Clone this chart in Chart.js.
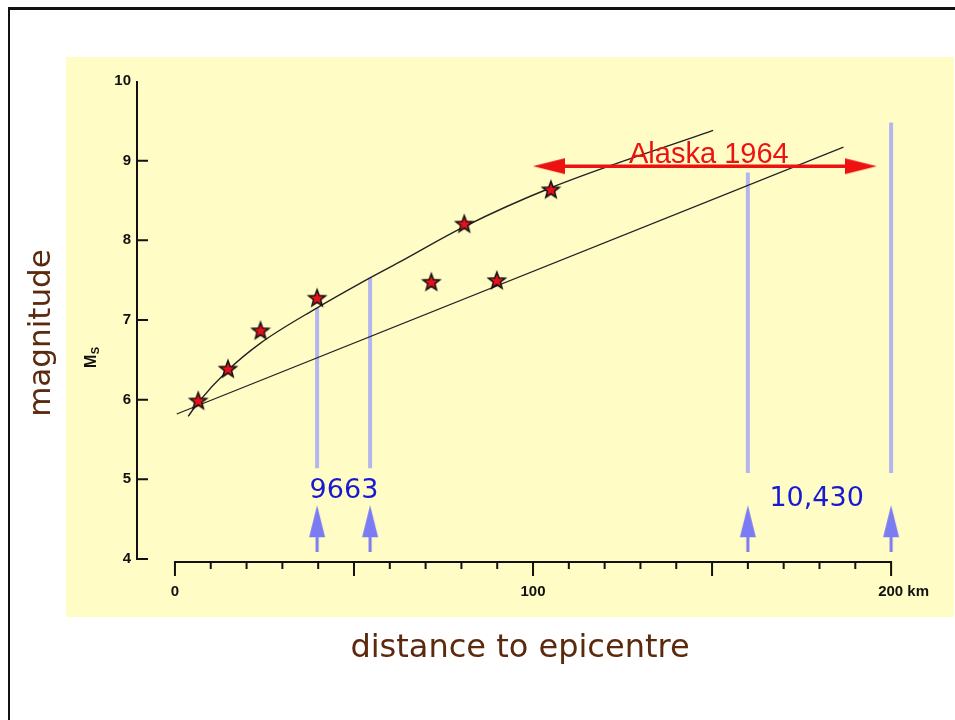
<!DOCTYPE html>
<html>
<head>
<meta charset="utf-8">
<script src="https://cdn.jsdelivr.net/npm/chart.js@4.4.1/dist/chart.umd.min.js"></script>
<style>
  body { margin: 0; width: 955px; height: 720px; background: #fff; position: relative; overflow: hidden; }
  #frame { position: absolute; left: 8px; top: 7px; width: 947px; height: 713px; border-top: 3px solid #111; border-left: 2px solid #111; box-sizing: border-box; }
  #panel { position: absolute; left: 66px; top: 57px; width: 888px; height: 560px; background: #fffcc6; }
  #fabri { position: absolute; left: 0; top: 0; }
  .titulo { position: absolute; font-family: "DejaVu Sans", Verdana, sans-serif; color: #5b2a0e; text-align: center; white-space: nowrap; }
  #ytitle { left: -61px; top: 315px; width: 200px; font-size: 31px; line-height: 36px; transform: rotate(-90deg); }
  #xtitle { left: 320px; top: 627px; width: 400px; font-size: 32px; line-height: 38px; }
</style>
</head>
<body>
<div id="frame"></div>
<div id="panel"></div>
<canvas id="fabri" width="955" height="720"></canvas>
<div class="titulo" id="ytitle">magnitude</div>
<div class="titulo" id="xtitle">distance to epicentre</div>
<script>
// terremotos (estrelas)
var starX = [6.5, 14.8, 23.9, 39.7, 71.6, 80.8, 89.9, 105];
var starY = [5.99, 6.39, 6.87, 7.28, 7.48, 8.21, 7.50, 8.64];

// curva superior
var curveX = [3.7, 6.4, 14.8, 23.9, 39.6, 51.7, 62.8, 80.7, 105, 150.3];
var curveY = [5.79, 5.96, 6.37, 6.71, 7.15, 7.46, 7.73, 8.17, 8.66, 9.38];

// reta inferior
var lineX = [0.5, 186.7];
var lineY = [5.82, 9.17];

// linhas azuis verticais
var blueX = [39.7, 54.5, 160, 200];
var blueBottom = [5.14, 5.14, 5.08, 5.08];
var blueTop = [7.15, 7.53, 8.85, 9.48];

// setas azuis
var arrowX = [39.7, 54.5, 160, 200];
var arrowY = [4.38, 4.38, 4.38, 4.38];

// seta vermelha (Alaska)
var alaskaX = [100, 196];
var alaskaY = [8.93, 8.93];
var alaskaShaftX = [106, 190];

// textos
var labelTexts = ['Alaska 1964', '9663', '10,430'];
var labelX = [149.1, 47.2, 179.2];
var labelY = [8.975, 4.76, 4.67];

// eixos
var yTicks = [4, 5, 6, 7, 8, 9];
var xTickMarks = [0, 10, 20, 30, 40, 50, 60, 70, 80, 90, 100, 110, 120, 130, 140, 150, 160, 170, 180, 190, 200];
var xMajor = [0, 50, 100, 150, 200];
var xTickValues = [0, 100, 200];
var xTickLabels = ['0', '100', '200 km'];

var tickFont = { family: '"Liberation Sans", Arial, sans-serif', size: 15, weight: 'bold' };

function makeStar(r, ri) {
  var c = document.createElement('canvas');
  var s = Math.ceil(r * 2 + 4);
  c.width = s;
  c.height = s;
  var g = c.getContext('2d');
  g.translate(s / 2, s / 2 + 0.8);
  g.beginPath();
  for (var i = 0; i < 10; i++) {
    var rad = (i % 2 === 0) ? r : ri;
    var a = -Math.PI / 2 + i * Math.PI / 5;
    g.lineTo(rad * Math.cos(a), rad * Math.sin(a));
  }
  g.closePath();
  g.fillStyle = '#e8101c';
  g.fill();
  g.lineWidth = 1.5;
  g.strokeStyle = '#111';
  g.stroke();
  return c;
}

function makeUpArrow() {
  var c = document.createElement('canvas');
  c.width = 18;
  c.height = 47;
  var g = c.getContext('2d');
  g.fillStyle = '#7b7bf3';
  g.beginPath();
  g.moveTo(9, 0);
  g.lineTo(17, 32);
  g.lineTo(1, 32);
  g.closePath();
  g.fill();
  g.fillRect(7.5, 31, 3, 16);
  return c;
}

function makeHead() {
  var c = document.createElement('canvas');
  c.width = 64;
  c.height = 18;
  var g = c.getContext('2d');
  g.fillStyle = '#ee1111';
  g.beginPath();
  g.moveTo(0, 1);
  g.lineTo(32, 9);
  g.lineTo(0, 17);
  g.closePath();
  g.fill();
  return c;
}

function pts(xs, ys) {
  var out = [];
  for (var i = 0; i < xs.length; i++) {
    out.push({ x: xs[i], y: ys[i] });
  }
  return out;
}

var datasets = [];

datasets.push({
  data: pts(starX, starY),
  pointStyle: makeStar(8.8, 3.7),
  pointRadius: 9,
  showLine: false,
  order: 0
});

datasets.push({
  data: pts(alaskaX, alaskaY),
  pointStyle: makeHead(),
  pointRotation: [180, 0],
  pointRadius: 10,
  showLine: false,
  order: 1
});

datasets.push({
  data: pts(alaskaShaftX, alaskaY),
  showLine: true,
  borderColor: '#ee1111',
  borderWidth: 3.5,
  pointRadius: 0,
  order: 1
});

datasets.push({
  data: pts(curveX, curveY),
  showLine: true,
  cubicInterpolationMode: 'monotone',
  borderColor: '#222',
  borderWidth: 1.4,
  pointRadius: 0,
  order: 2
});

datasets.push({
  data: pts(lineX, lineY),
  showLine: true,
  borderColor: '#222',
  borderWidth: 1.2,
  pointRadius: 0,
  order: 2
});

for (var i = 0; i < blueX.length; i++) {
  datasets.push({
    data: [{ x: blueX[i], y: blueBottom[i] }, { x: blueX[i], y: blueTop[i] }],
    showLine: true,
    borderColor: '#b5b5ef',
    borderWidth: 4,
    pointRadius: 0,
    order: 3
  });
}

datasets.push({
  data: pts(arrowX, arrowY),
  pointStyle: makeUpArrow(),
  pointRadius: 10,
  showLine: false,
  order: 3
});

// eixos desenhados a partir das escalas
var eixos = {
  id: 'eixos',
  beforeDatasetsDraw: function (chart) {
    var ctx = chart.ctx;
    var xs = chart.scales.x;
    var ys = chart.scales.y;
    var area = chart.chartArea;
    ctx.save();
    ctx.strokeStyle = '#111';
    ctx.lineWidth = 2;
    ctx.lineCap = 'butt';

    var x0 = area.left;
    ctx.beginPath();
    ctx.moveTo(x0, ys.getPixelForValue(10));
    ctx.lineTo(x0, ys.getPixelForValue(4) + 1);
    for (var i = 0; i < yTicks.length; i++) {
      var py = ys.getPixelForValue(yTicks[i]);
      ctx.moveTo(x0 - 1, py);
      ctx.lineTo(x0 + 11, py);
    }
    ctx.stroke();

    var yA = area.bottom + 3;
    ctx.beginPath();
    ctx.moveTo(xs.getPixelForValue(0) - 1, yA);
    ctx.lineTo(xs.getPixelForValue(200) + 1, yA);
    for (var j = 0; j < xTickMarks.length; j++) {
      var px = xs.getPixelForValue(xTickMarks[j]);
      var len = xMajor.indexOf(xTickMarks[j]) >= 0 ? 14 : 7;
      ctx.moveTo(px, yA);
      ctx.lineTo(px, yA + len);
    }
    ctx.stroke();

    // titulo Ms
    ctx.translate(92, 368);
    ctx.rotate(-Math.PI / 2);
    ctx.fillStyle = '#111';
    ctx.textBaseline = 'middle';
    ctx.textAlign = 'left';
    ctx.font = 'bold 16px "Liberation Sans", Arial, sans-serif';
    ctx.fillText('M', 0, 0);
    var w = ctx.measureText('M').width;
    ctx.font = 'bold 11px "Liberation Sans", Arial, sans-serif';
    ctx.fillText('S', w + 0.5, 3.5);
    ctx.restore();
  },
  afterDatasetsDraw: function (chart) {
    var ctx = chart.ctx;
    var xs = chart.scales.x;
    var ys = chart.scales.y;
    ctx.save();
    ctx.textAlign = 'center';
    ctx.textBaseline = 'alphabetic';
    for (var i = 0; i < labelTexts.length; i++) {
      if (i === 0) {
        ctx.font = '29px "Liberation Sans", Arial, sans-serif';
        ctx.fillStyle = '#ee1111';
      } else {
        ctx.font = '27px "DejaVu Sans", Verdana, sans-serif';
        ctx.fillStyle = '#1919d2';
      }
      ctx.fillText(labelTexts[i], xs.getPixelForValue(labelX[i]), ys.getPixelForValue(labelY[i]));
    }
    ctx.restore();
  }
};

var ctx = document.getElementById('fabri');
var chart = new Chart(ctx, {
  type: 'scatter',
  data: { datasets: datasets },
  plugins: [eixos],
  options: {
    responsive: false,
    animation: false,
    devicePixelRatio: 1,
    layout: { padding: { left: 87, right: 46, top: 81, bottom: 121 } },
    plugins: {
      legend: { display: false },
      tooltip: { enabled: false }
    },
    scales: {
      x: {
        type: 'linear',
        min: -10.6,
        max: 205,
        grid: { display: false, drawTicks: false },
        border: { display: false },
        afterBuildTicks: function (s) {
          s.ticks = xTickValues.map(function (v) { return { value: v }; });
        },
        afterFit: function (s) {
          s.height = 40;
          s.paddingLeft = 0;
          s.paddingRight = 0;
        },
        ticks: {
          padding: 24,
          autoSkip: false,
          maxRotation: 0,
          color: '#111',
          font: tickFont,
          callback: function (v, idx) {
            if (idx === xTickLabels.length - 1) {
              return '      ' + xTickLabels[idx];
            }
            return xTickLabels[idx];
          }
        }
      },
      y: {
        min: 4,
        max: 10,
        grid: { display: false, drawTicks: false },
        border: { display: false },
        afterFit: function (s) {
          s.width = 50;
          s.paddingTop = 0;
          s.paddingBottom = 0;
        },
        ticks: {
          stepSize: 1,
          padding: 6,
          color: '#111',
          font: tickFont
        }
      }
    }
  }
});
</script>
</body>
</html>
